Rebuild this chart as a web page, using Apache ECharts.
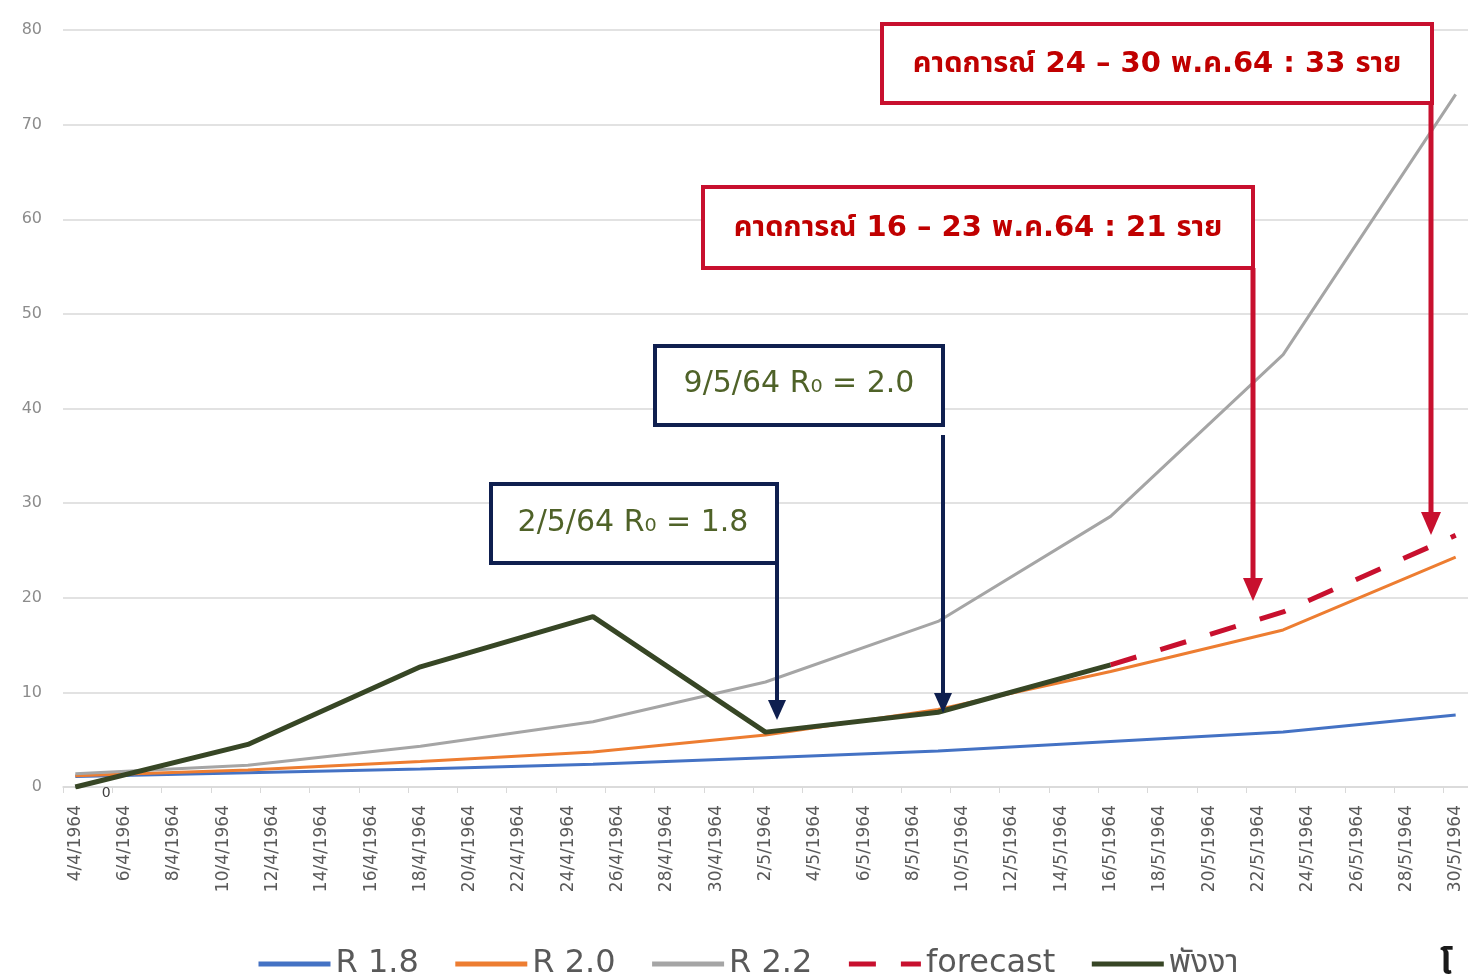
<!DOCTYPE html>
<html>
<head>
<meta charset="utf-8">
<script src="https://cdn.jsdelivr.net/npm/echarts@6/dist/echarts.min.js"></script>
<style>
  html, body { margin: 0; padding: 0; background: #fff; }
  #chart { width: 1468px; height: 980px; }
</style>
</head>
<body>
<div id="chart"></div>
<script>
// ---- tick labels (daily categories, every other one shown) ----
const categories = [
  '4/4/1964','5/4/1964','6/4/1964','7/4/1964','8/4/1964','9/4/1964','10/4/1964','11/4/1964',
  '12/4/1964','13/4/1964','14/4/1964','15/4/1964','16/4/1964','17/4/1964','18/4/1964','19/4/1964',
  '20/4/1964','21/4/1964','22/4/1964','23/4/1964','24/4/1964','25/4/1964','26/4/1964','27/4/1964',
  '28/4/1964','29/4/1964','30/4/1964','1/5/1964','2/5/1964','3/5/1964','4/5/1964','5/5/1964',
  '6/5/1964','7/5/1964','8/5/1964','9/5/1964','10/5/1964','11/5/1964','12/5/1964','13/5/1964',
  '14/5/1964','15/5/1964','16/5/1964','17/5/1964','18/5/1964','19/5/1964','20/5/1964','21/5/1964',
  '22/5/1964','23/5/1964','24/5/1964','25/5/1964','26/5/1964','27/5/1964','28/5/1964','29/5/1964',
  '30/5/1964'
];

// ---- series values (weekly points) ----
const weekDates = ['4/4/1964','11/4/1964','18/4/1964','25/4/1964','2/5/1964','9/5/1964','16/5/1964','23/5/1964','30/5/1964'];
const r18 = [1.1, 1.5, 1.9, 2.4, 3.1, 3.8, 4.8, 5.8, 7.6];
const r20 = [1.2, 1.8, 2.7, 3.7, 5.5, 8.2, 12.2, 16.6, 24.3];
const r22 = [1.4, 2.3, 4.3, 6.9, 11.1, 17.5, 28.6, 45.7, 73.2];
const phangngaDates = ['4/4/1964','11/4/1964','18/4/1964','25/4/1964','2/5/1964','9/5/1964','16/5/1964'];
const phangnga = [0, 4.5, 12.7, 18, 5.8, 7.9, 12.9];
const forecastDates = ['16/5/1964','23/5/1964','30/5/1964'];
const forecast = [12.9, 18.5, 26.6];

const seriesNames = ['R 1.8', 'R 2.0', 'R 2.2', 'forecast', 'พังงา'];
const yTicks = [0, 10, 20, 30, 40, 50, 60, 70, 80];

const FONT = "'DejaVu Sans', 'Noto Sans Thai', 'Noto Sans', 'Loma', 'Garuda', 'Tlwg Typo', sans-serif";

function pairs(dates, vals) { return dates.map((d, i) => [d, vals[i]]); }

const chart = echarts.init(document.getElementById('chart'), null, { renderer: 'canvas' });

const option = {
  backgroundColor: '#ffffff',
  animation: false,
  textStyle: { fontFamily: FONT },
  grid: { left: 63, right: 0, top: 30, bottom: 193, containLabel: false },
  xAxis: {
    type: 'category',
    data: categories,
    boundaryGap: true,
    axisLine: { show: true, lineStyle: { color: '#d9d9d9', width: 1.5 } },
    axisTick: { show: true, interval: 1, length: 6, lineStyle: { color: '#d9d9d9' } },
    axisLabel: { interval: 1, rotate: 90, margin: 18, color: '#595959', fontSize: 17, fontFamily: FONT }
  },
  yAxis: {
    type: 'value',
    min: yTicks[0],
    max: yTicks[yTicks.length - 1],
    interval: 10,
    axisLine: { show: false },
    axisTick: { show: false },
    axisLabel: { color: '#8c8c8c', fontSize: 16, margin: 21, fontFamily: FONT },
    splitLine: { lineStyle: { color: '#d9d9d9', width: 1.5 } }
  },
  legend: {
    left: 251,
    top: 943,
    itemWidth: 72,
    itemHeight: 14,
    itemGap: 34,
    itemStyle: { opacity: 0 },
    lineStyle: { width: 5 },
    textStyle: { color: '#595959', fontSize: 32, fontFamily: FONT },
    data: seriesNames
  },
  series: [
    { name: seriesNames[0], type: 'line', symbol: 'none', data: pairs(weekDates, r18),
      lineStyle: { color: '#4472C4', width: 3 }, itemStyle: { color: '#4472C4' } },
    { name: seriesNames[1], type: 'line', symbol: 'none', data: pairs(weekDates, r20),
      lineStyle: { color: '#ED7D31', width: 3 }, itemStyle: { color: '#ED7D31' } },
    { name: seriesNames[2], type: 'line', symbol: 'none', data: pairs(weekDates, r22),
      lineStyle: { color: '#A5A5A5', width: 3 }, itemStyle: { color: '#A5A5A5' } },
    { name: seriesNames[3], type: 'line', symbol: 'none', data: pairs(forecastDates, forecast),
      lineStyle: { color: '#C8102E', width: 5, type: [27, 25] }, itemStyle: { color: '#C8102E' } },
    { name: seriesNames[4], type: 'line', symbol: 'none',
      data: pairs(phangngaDates, phangnga).map((p, i) => i === 0
        ? { value: p, symbol: 'circle', symbolSize: 1,
            label: { show: true, position: 'right', distance: 0, offset: [26, 6], formatter: (prm) => String(prm.value[1]), color: '#404040', fontSize: 14 } }
        : p),
      lineStyle: { color: '#374625', width: 5 }, itemStyle: { color: '#374625' } }
  ],
  graphic: [
    // red forecast boxes
    { type: 'rect', shape: { x: 882, y: 24, width: 550, height: 79 }, style: { fill: '#fff', stroke: '#C8102E', lineWidth: 4 }, z: 100 },
    { type: 'text', style: { text: 'คาดการณ์ 24 – 30 พ.ค.64 : 33 ราย', x: 1157, y: 64, align: 'center', verticalAlign: 'middle', fill: '#C00000', font: "bold 29px " + FONT }, z: 101 },
    { type: 'rect', shape: { x: 703, y: 187, width: 550, height: 81 }, style: { fill: '#fff', stroke: '#C8102E', lineWidth: 4 }, z: 100 },
    { type: 'text', style: { text: 'คาดการณ์ 16 – 23 พ.ค.64 : 21 ราย', x: 978, y: 228, align: 'center', verticalAlign: 'middle', fill: '#C00000', font: "bold 29px " + FONT }, z: 101 },
    // red arrows
    { type: 'polyline', shape: { points: [[1431, 103], [1431, 515]] }, style: { stroke: '#C8102E', lineWidth: 5 }, z: 100 },
    { type: 'polygon', shape: { points: [[1421, 512], [1441, 512], [1431, 535]] }, style: { fill: '#C8102E' }, z: 100 },
    { type: 'polyline', shape: { points: [[1253, 268], [1253, 580]] }, style: { stroke: '#C8102E', lineWidth: 5 }, z: 100 },
    { type: 'polygon', shape: { points: [[1243, 578], [1263, 578], [1253, 601]] }, style: { fill: '#C8102E' }, z: 100 },
    // navy R0 boxes
    { type: 'rect', shape: { x: 655, y: 346, width: 288, height: 79 }, style: { fill: '#fff', stroke: '#0F1F4F', lineWidth: 4 }, z: 100 },
    { type: 'text', style: { text: '9/5/64 R₀ = 2.0', x: 799, y: 384, align: 'center', verticalAlign: 'middle', fill: '#4F6228', font: "30px " + FONT }, z: 101 },
    { type: 'rect', shape: { x: 491, y: 484, width: 286, height: 79 }, style: { fill: '#fff', stroke: '#0F1F4F', lineWidth: 4 }, z: 100 },
    { type: 'text', style: { text: '2/5/64 R₀ = 1.8', x: 633, y: 523, align: 'center', verticalAlign: 'middle', fill: '#4F6228', font: "30px " + FONT }, z: 101 },
    // navy arrows
    { type: 'polyline', shape: { points: [[943, 435], [943, 695]] }, style: { stroke: '#0F1F4F', lineWidth: 4 }, z: 100 },
    { type: 'polygon', shape: { points: [[934, 693], [952, 693], [943, 713]] }, style: { fill: '#0F1F4F' }, z: 100 },
    { type: 'polyline', shape: { points: [[777, 563], [777, 702]] }, style: { stroke: '#0F1F4F', lineWidth: 4 }, z: 100 },
    { type: 'polygon', shape: { points: [[768, 700], [786, 700], [777, 720]] }, style: { fill: '#0F1F4F' }, z: 100 },
    // clipped slide text at bottom right
    { type: 'text', style: { text: 'โ', x: 1440, y: 948, fill: '#1a1a1a', font: "bold 34px " + FONT }, z: 101 }
  ]
};

chart.setOption(option);
</script>
</body>
</html>
